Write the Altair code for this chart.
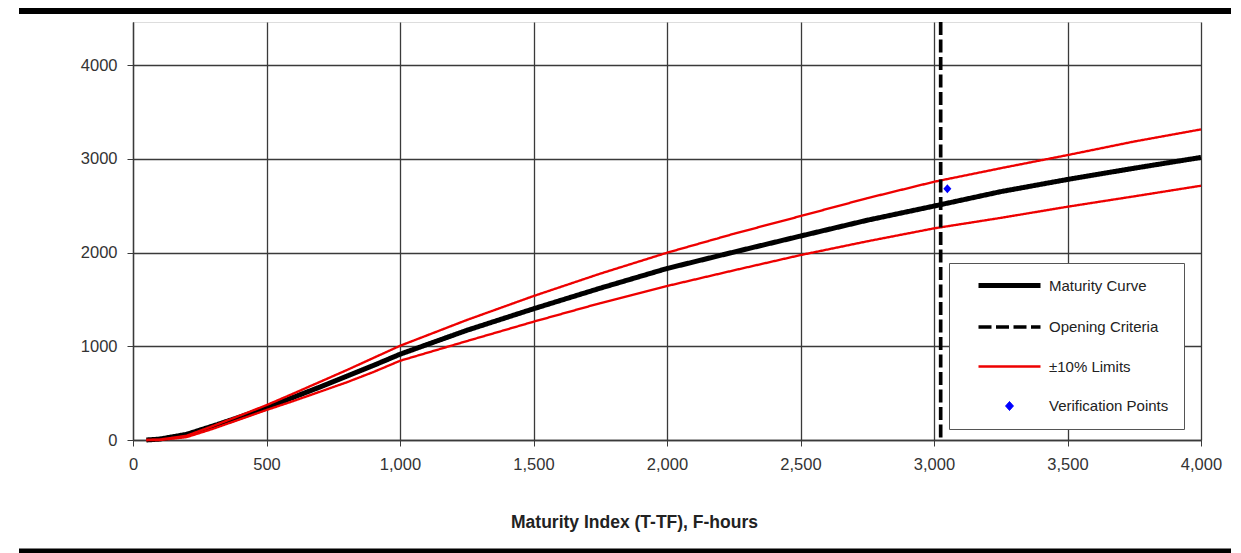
import altair as alt
import pandas as pd

# ---- data ----
x_vals = [50, 100, 200, 300, 400, 500, 600, 700, 800, 900, 1000, 1250, 1500,
          1750, 2000, 2250, 2500, 2750, 3000, 3250, 3500, 3750, 4000]
maturity = [0, 10, 60, 150, 245, 345, 455, 565, 680, 795, 915, 1170, 1400,
            1620, 1830, 2005, 2176, 2345, 2496, 2650, 2780, 2900, 3015]
upper = [0, 5, 45, 150, 260, 372, 495, 620, 745, 875, 1005, 1280, 1536,
         1775, 1998, 2200, 2389, 2580, 2755, 2900, 3040, 3185, 3314]
lower = [0, 0, 30, 120, 220, 320, 415, 515, 615, 725, 845, 1055, 1262,
         1460, 1643, 1810, 1973, 2120, 2258, 2370, 2489, 2600, 2713]

opening_x = [3025]
verif_x = [3050]
verif_y = [2680]

series_names = ["Maturity Curve", "Opening Criteria", "\u00b110% Limits", "Verification Points"]
series_colors = ["#000000", "#000000", "#ee0000", "#0000ff"]
series_dash = [[1, 0], [13, 4.5], [1, 0], [1, 0]]
series_shapes = ["M-6.2,0L6.2,0", "M-6.2,0L6.2,0", "M-6.2,0L6.2,0",
                 "M0,-0.9L0.8,0L0,0.9L-0.8,0Z"]

x_ticks = [0, 500, 1000, 1500, 2000, 2500, 3000, 3500, 4000]
y_ticks = [0, 1000, 2000, 3000, 4000]

FONT = "Liberation Sans"

rows = []
for name, label, ys in [("mat", series_names[0], maturity),
                        ("up", series_names[2], upper),
                        ("lo", series_names[2], lower)]:
    for xv, yv in zip(x_vals, ys):
        rows.append({"x": xv, "y": yv, "series": label, "curve": name})
lines_df = pd.DataFrame(rows)
rule_df = pd.DataFrame({"x": opening_x, "series": [series_names[1]]})
pt_df = pd.DataFrame({"x": verif_x, "y": verif_y, "series": [series_names[3]]})

legend = alt.Legend(
    title=None, orient="none", legendX=816, legendY=241, padding=15,
    strokeColor="#555555", fillColor="white",
    symbolSize=100, symbolOffset=38, labelOffset=32, rowPadding=23.5,
    labelFont=FONT, labelFontSize=15, labelColor="#222222",
)

color_enc = alt.Color("series:N", scale=alt.Scale(domain=series_names, range=series_colors), legend=legend)
dash_enc = alt.StrokeDash("series:N", scale=alt.Scale(domain=series_names, range=series_dash), legend=legend)
width_enc = alt.StrokeWidth("series:N", scale=alt.Scale(type="point", domain=series_names, range=[5, 1], padding=0), legend=legend)
shape_enc = alt.Shape("series:N", scale=alt.Scale(domain=series_names, range=series_shapes), legend=legend)

x_scale = alt.Scale(domain=[0, 4000], nice=False)
y_scale = alt.Scale(domain=[0, 4460], nice=False)

x_axis = alt.Axis(values=x_ticks, format=",d", grid=True, gridColor="#3a3a3a", gridWidth=1.3,
                  domainColor="#3a3a3a", domainWidth=1.3, tickColor="#3a3a3a", tickSize=6,
                  labelFont=FONT, labelFontSize=16.5, labelColor="#333333", labelPadding=10,
                  labelFlush=False,
                  title="Maturity Index (T-TF), F-hours", titleFont=FONT, titleFontSize=17.5,
                  titleFontWeight="bold", titleColor="#222222", titleX=501, titleY=82,
                  titleAlign="center", titleBaseline="middle")
y_axis = alt.Axis(values=y_ticks, format="d", grid=True, gridColor="#3a3a3a", gridWidth=1.3,
                  domainColor="#3a3a3a", domainWidth=1.3, tickColor="#3a3a3a", tickSize=6,
                  labelFont=FONT, labelFontSize=16.5, labelColor="#333333", labelPadding=10,
                  title=None)

frame_df = pd.DataFrame({"k": ["top", "bottom"], "a": [-14, 526.5], "b": [-8, 531]})
frame = alt.Chart(frame_df).mark_rect(color="black").encode(
    x=alt.value(-114), x2=alt.value(1108),
    y=alt.Y("a:Q", scale=None),
    y2=alt.Y2("b:Q"),
)

lines = alt.Chart(lines_df).mark_line(strokeCap="butt", strokeJoin="round").encode(
    x=alt.X("x:Q", scale=x_scale, axis=x_axis),
    y=alt.Y("y:Q", scale=y_scale, axis=y_axis),
    detail="curve:N",
    color=color_enc,
    strokeDash=dash_enc,
    strokeWidth=width_enc,
)

rule = alt.Chart(rule_df).mark_rule(strokeCap="butt").encode(
    x=alt.X("x:Q", scale=x_scale),
    color=color_enc,
    strokeDash=dash_enc,
    strokeWidth=width_enc,
)

point = alt.Chart(pt_df).mark_point(filled=True, size=100, opacity=1).encode(
    x=alt.X("x:Q", scale=x_scale),
    y=alt.Y("y:Q", scale=y_scale),
    color=color_enc,
    shape=shape_enc,
)

chart = alt.layer(lines, rule, point, frame).properties(
    width=1068, height=418,
    autosize=alt.AutoSizeParams(type="none"),
    padding={"left": 125, "top": 14, "right": 30, "bottom": 113},
).configure_view(stroke=None).configure(background="white")

chart.save("out.html", embed_options={"renderer": "svg", "actions": False})
